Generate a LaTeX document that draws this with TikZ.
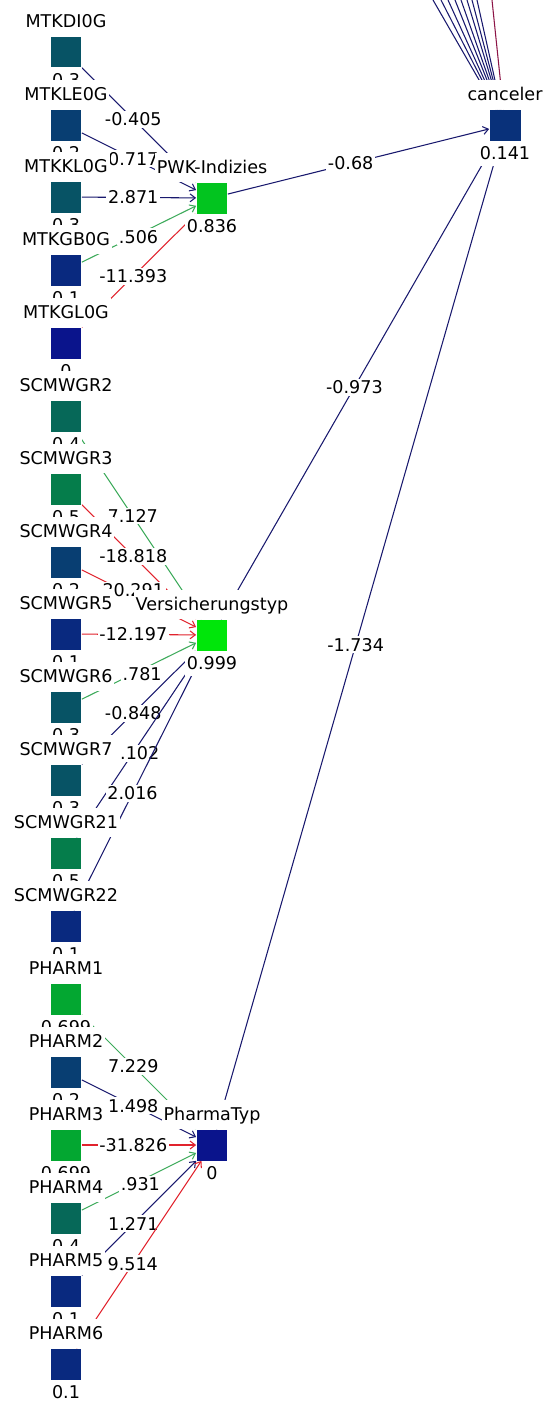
\documentclass[tikz,border=0pt]{standalone}
\usepackage{fontspec}
\setmainfont{DejaVu Sans}
\usetikzlibrary{arrows.meta}
\definecolor{lo}{RGB}{10,20,140}
\definecolor{hi}{RGB}{0,230,10}
\definecolor{wnavy}{RGB}{25,25,110}
\definecolor{wgreen}{RGB}{60,170,90}
\definecolor{wred}{RGB}{225,35,45}
\definecolor{wmaroon}{RGB}{140,20,70}
\pgfdeclarelayer{back}
\pgfdeclarelayer{edge}
\pgfsetlayers{back,edge,main}

\begin{document}
\begin{tikzpicture}[
  x=0.02cm, y=-0.02cm,
  font=\fontsize{10}{12}\selectfont,
  lbl/.style ={fill=white, inner xsep=1pt, inner ysep=2.2pt,
               text height=9.5pt, text depth=2.5pt},
  val/.style ={fill=white, inner xsep=1pt, inner ysep=1pt,
               text height=9.5pt, text depth=2.5pt},
  unit/.style n args={3}{rectangle, inner sep=0pt, minimum size=0.62cm,
               fill=hi!#3!lo,
               label={[lbl]above:#1}, label={[val]below:#2}},
  wt/.style  ={fill=white, inner sep=1pt, pos=0.45, text=black},
  nw/.style  ={-{Straight Barb[length=3pt,width=4.5pt]}, line width=0.6pt, color=wnavy},
  gw/.style  ={-{Straight Barb[length=3pt,width=4.5pt]}, line width=0.6pt, color=wgreen},
  rw/.style  ={-{Straight Barb[length=3pt,width=4.5pt]}, line width=0.6pt, color=wred},
  mw/.style  ={-{Straight Barb[length=3pt,width=4.5pt]}, line width=0.6pt, color=wmaroon},
]

\begin{pgfonlayer}{back}
  \fill[white] (0,0) rectangle (548,1403);
\end{pgfonlayer}
\useasboundingbox (0,0) rectangle (548,1403);

%% ===== input units =====
\node[unit={MTKDI0G}{0.3}{30}]   (mtkdi) at (66, 52)   {};
\node[unit={MTKLE0G}{0.2}{20}]   (mtkle) at (66, 125)  {};
\node[unit={MTKKL0G}{0.3}{30}]   (mtkkl) at (66, 197)  {};
\node[unit={MTKGB0G}{0.1}{10}]   (mtkgb) at (66, 270)  {};
\node[unit={MTKGL0G}{0}{0}]      (mtkgl) at (66, 343)  {};
\node[unit={SCMWGR2}{0.4}{40}]   (scm2)  at (66, 416)  {};
\node[unit={SCMWGR3}{0.5}{50}]   (scm3)  at (66, 489)  {};
\node[unit={SCMWGR4}{0.2}{20}]   (scm4)  at (66, 562)  {};
\node[unit={SCMWGR5}{0.1}{10}]   (scm5)  at (66, 634)  {};
\node[unit={SCMWGR6}{0.3}{30}]   (scm6)  at (66, 707)  {};
\node[unit={SCMWGR7}{0.3}{30}]   (scm7)  at (66, 780)  {};
\node[unit={SCMWGR21}{0.5}{50}]  (scm21) at (66, 853)  {};
\node[unit={SCMWGR22}{0.1}{10}]  (scm22) at (66, 926)  {};
\node[unit={PHARM1}{0.699}{70}]  (ph1)   at (66, 999)  {};
\node[unit={PHARM2}{0.2}{20}]    (ph2)   at (66, 1072) {};
\node[unit={PHARM3}{0.699}{70}]  (ph3)   at (66, 1145) {};
\node[unit={PHARM4}{0.4}{40}]    (ph4)   at (66, 1218) {};
\node[unit={PHARM5}{0.1}{10}]    (ph5)   at (66, 1291) {};
\node[unit={PHARM6}{0.1}{10}]    (ph6)   at (66, 1364) {};

%% ===== hidden units =====
\node[unit={PWK-Indizies}{0.836}{84}]     (pwk)    at (212, 198)  {};
\node[unit={Versicherungstyp}{0.999}{100}] (vers)  at (212, 635)  {};
\node[unit={PharmaTyp}{0}{0}]             (pharma) at (212, 1145) {};

%% ===== output unit =====
\node[unit={canceler}{0.141}{14}] (canceler) at (505, 125) {};

% ends of the edges coming in from above
\coordinate (t1) at (433, 0);
\coordinate (t2) at (441, 0);
\coordinate (t3) at (448, 0);
\coordinate (t4) at (455, 0);
\coordinate (t5) at (461, 0);
\coordinate (t6) at (467, 0);
\coordinate (t7) at (472, 0);
\coordinate (t8) at (477, 0);
\coordinate (t9) at (492, 0);

\begin{pgfonlayer}{edge}
%% PWK-Indizies
\draw[nw] (mtkdi) -- node[wt]{-0.405} (pwk);
\draw[nw] (mtkle) -- node[wt]{0.717} (pwk);
\draw[nw] (mtkkl) -- node[wt]{2.871} (pwk);
\draw[gw] (mtkgb) -- node[wt, xshift=3pt]{.506} (pwk);
\draw[rw] (mtkgl) -- node[wt]{-11.393} (pwk);

%% Versicherungstyp
\draw[gw] (scm2)  -- node[wt]{7.127} (vers);
\draw[rw] (scm3)  -- node[wt]{-18.818} (vers);
\draw[rw] (scm4)  -- node[wt, yshift=3pt]{20.291} (vers);
\draw[rw] (scm5)  -- node[wt]{-12.197} (vers);
\draw[gw] (scm6)  -- node[wt, xshift=5pt]{.781} (vers);
\draw[nw] (scm7)  -- node[wt]{-0.848} (vers);
\draw[nw] (scm21) -- node[wt, xshift=4pt]{.102} (vers);
\draw[nw] (scm22) -- node[wt]{2.016} (vers);

%% PharmaTyp
\draw[gw] (ph1) -- node[wt]{7.229} (pharma);
\draw[nw] (ph2) -- node[wt]{1.498} (pharma);
\draw[rw] (ph3) -- node[wt]{-31.826} (pharma);
\draw[gw] (ph4) -- node[wt, xshift=4pt]{.931} (pharma);
\draw[nw] (ph5) -- node[wt]{1.271} (pharma);
\draw[rw] (ph6) -- node[wt]{9.514} (pharma);

%% canceler
\draw[nw] (pwk)    -- node[wt, pos=0.47]{-0.68}  (canceler);
\draw[nw] (vers)   -- node[wt, pos=0.485]{-0.973} (canceler);
\draw[nw] (pharma) -- node[wt, pos=0.49]{-1.734} (canceler);
\foreach \t in {t1,t2,t3,t4,t5,t6,t7,t8}
  \draw[nw] (\t) -- (canceler);
\draw[mw] (t9) -- (canceler);
\end{pgfonlayer}

\end{tikzpicture}
\end{document}
